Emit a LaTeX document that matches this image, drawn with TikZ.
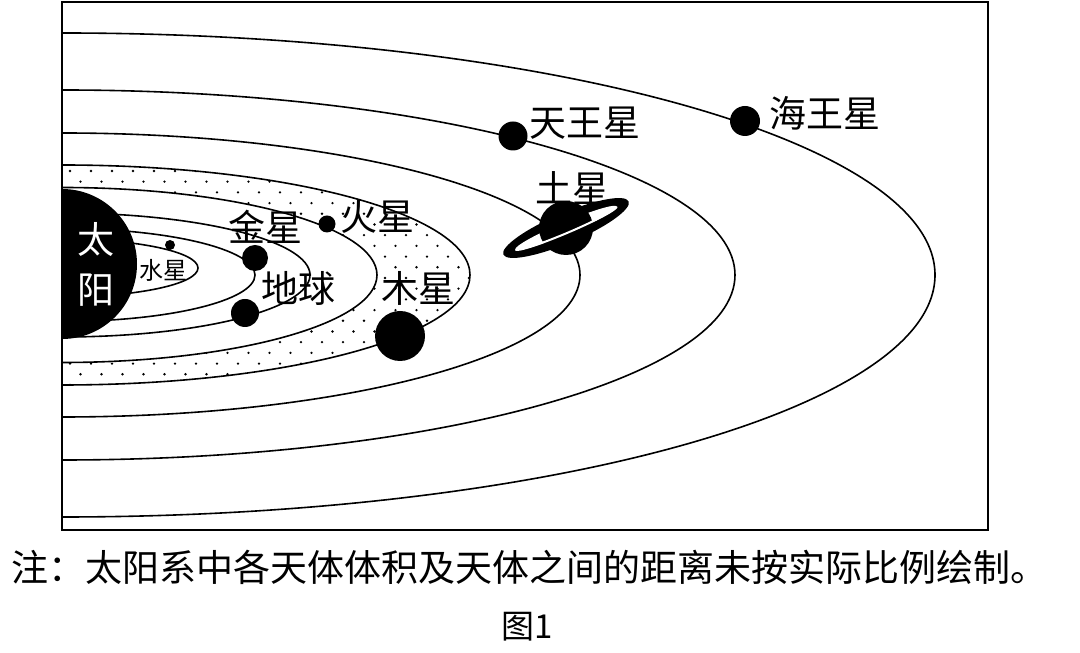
\documentclass[tikz,border=0pt]{standalone}
\usepackage{fontspec}
\setmainfont{Noto Sans CJK SC}
\begin{document}
\begin{tikzpicture}[x=1pt,y=1pt,
  orbit/.style={line width=1.6pt},
  planet/.style={circle,fill=black,inner sep=0pt},
  lbl/.style={font=\fontsize{37}{39}\selectfont,inner sep=0pt}]
\useasboundingbox (0,0) rectangle (1080,653);
\begin{scope}
\clip (62,123) rectangle (988,651);
% asteroid belt dots
\begin{scope}
\clip (62,378) ellipse [x radius=408,y radius=110];
\foreach \r in {0,...,22}{
  \foreach \c in {0,...,21}{
    \pgfmathsetmacro{\xx}{70+\c*21+mod(\r,2)*10.5}
    \pgfmathsetmacro{\yy}{268+\r*10.7}
    \fill (\xx,\yy) circle (1.3);
  }}
\end{scope}
\fill[white] (62,378) ellipse [x radius=315,y radius=87.5];
\draw[orbit] (62,385) ellipse [x radius=136,y radius=29];
\draw[orbit] (62,378) ellipse [x radius=193,y radius=46.5];
\draw[orbit] (62,378) ellipse [x radius=248,y radius=62];
\draw[orbit] (62,378) ellipse [x radius=315,y radius=87.5];
\draw[orbit] (62,378) ellipse [x radius=408,y radius=110];
\draw[orbit] (62,378) ellipse [x radius=518,y radius=142];
\draw[orbit] (62,378) ellipse [x radius=673,y radius=185];
\draw[orbit] (62,378) ellipse [x radius=873,y radius=242];
\fill (62,389) circle (75);
\end{scope}
\draw[line width=1.6pt] (62,123) rectangle (988,651);
% sun label
\node[lbl,text=white] (sun1) at (96,413) {太};
\node[lbl,text=white] (sun2) at (96,363) {阳};
% planets
\node[planet,minimum size=10pt] (mercury) at (170,408) {};
\node[planet,minimum size=17pt] (mars) at (327,429) {};
\node[planet,minimum size=26pt] (venus) at (255,395) {};
\node[planet,minimum size=28pt] (earth) at (245,340) {};
\node[planet,minimum size=50pt] (jupiter) at (400,317) {};
\node[planet,minimum size=29pt] (uranus) at (513,517) {};
\node[planet,minimum size=30pt] (neptune) at (745,532) {};
% saturn
\begin{scope}[shift={(566,425)},rotate=23]
\fill (0,0) ellipse [x radius=68,y radius=15];
\fill[white] (0,0) ellipse [x radius=55,y radius=6];
\end{scope}
\node[planet,minimum size=54pt] (saturn) at (566,425) {};
\begin{scope}[shift={(566,425)},rotate=23]
\draw[white,line width=2pt] (-55,0) arc[start angle=180,end angle=360,x radius=55,y radius=5];
\end{scope}
% labels
\node[font=\fontsize{24}{26}\selectfont,inner sep=0pt] (lmer) at (163,383) {水星};
\node[lbl] (lven) at (265,426) {金星};
\node[lbl] (lmar) at (377,436) {火星};
\node[lbl] (lear) at (298,365) {地球};
\node[lbl] (ljup) at (418,365) {木星};
\node[lbl] (lsat) at (572,465) {土星};
\node[lbl] (lura) at (585,530) {天王星};
\node[lbl] (lnep) at (825,540) {海王星};
\node[font=\fontsize{37}{40}\selectfont,inner sep=0pt] (note) at (530,86) {注：太阳系中各天体体积及天体之间的距离未按实际比例绘制。};
\node[font=\fontsize{33}{35}\selectfont,inner sep=0pt] (fig) at (527,26) {图1};
\end{tikzpicture}
\end{document}
